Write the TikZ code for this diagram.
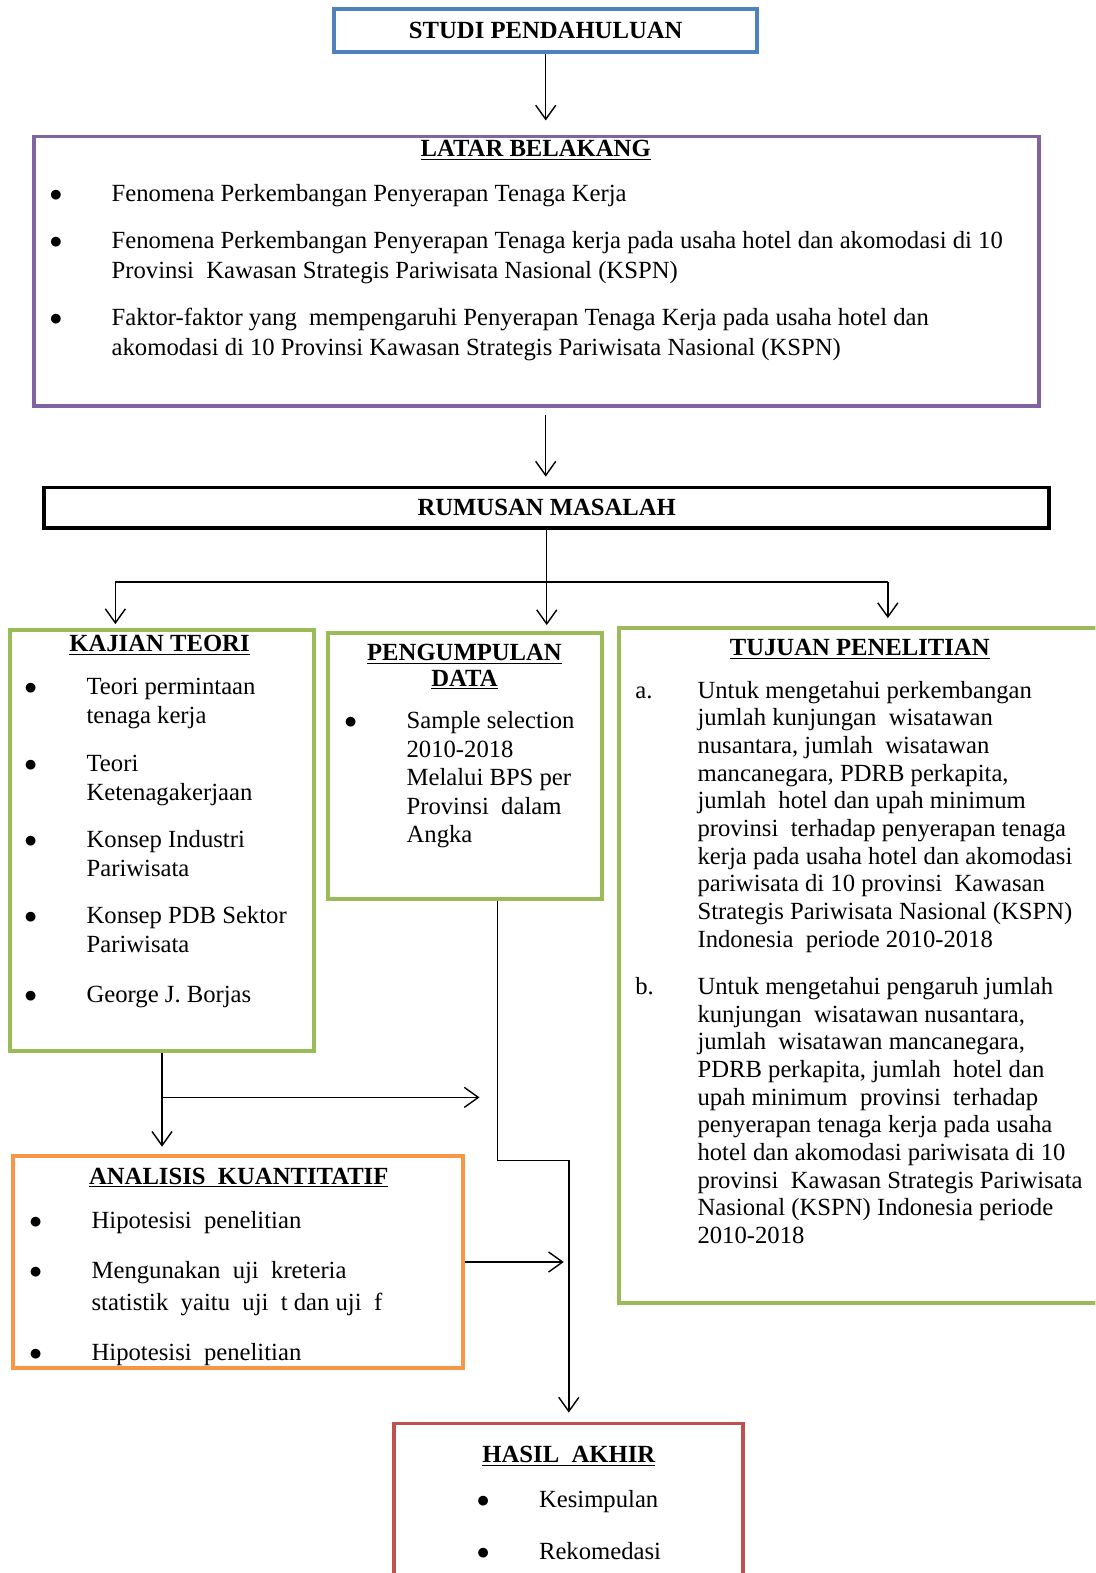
\documentclass[tikz,border=0pt]{standalone}
\usepackage{fontspec}
\setmainfont{Liberation Serif}
\usetikzlibrary{arrows.meta, positioning, calc}
\definecolor{myblue}{RGB}{79,129,189}
\definecolor{mypurple}{RGB}{128,100,162}
\definecolor{mygreen}{RGB}{155,187,89}
\definecolor{myorange}{RGB}{247,150,70}
\definecolor{myred}{RGB}{192,80,77}
\newcommand{\itemrow}[3][1.24cm]{\begin{tabular}{@{}p{#1}@{}l@{}}#2 & #3\end{tabular}}
\newcommand{\bul}{$\bullet$}

\begin{document}
\begin{tikzpicture}[
    x=0.02cm, y=-0.02cm,
    box/.style={draw,line width=2.2pt,inner sep=0pt},
    title/.style={inner sep=0pt,align=center,font=\fontsize{14}{16}\selectfont\bfseries},
    item/.style={inner sep=0pt,anchor=west,font=\fontsize{14}{#1}\selectfont},
    item/.default=17,
    arrow/.style={-{Straight Barb[length=0.28cm,width=0.4cm]},line width=0.8pt},
    line/.style={line width=0.8pt}
]
    \clip (0,0) rectangle (1092,1568);

    % Boxes
    \node[box,draw=myblue,minimum width=8.44cm,minimum height=0.86cm,font=\fontsize{14}{16}\selectfont\bfseries] (studi) at (544,30.5) {STUDI PENDAHULUAN};
    \node[box,draw=mypurple,minimum width=20.04cm,minimum height=5.38cm] (latar) at (535,270.5) {};
    \node[box,draw=black,minimum width=20.04cm,minimum height=0.8cm,font=\fontsize{14}{16}\selectfont\bfseries] (rumusan) at (545,506) {RUMUSAN MASALAH};
    \node[box,draw=mygreen,minimum width=6.06cm,minimum height=8.4cm] (kajian) at (161.5,838) {};
    \node[box,draw=mygreen,minimum width=5.46cm,minimum height=5.3cm] (data) at (463.5,763.5) {};
    \node[box,draw=mygreen,minimum width=9.86cm,minimum height=13.46cm] (tujuan) at (863.5,962.5) {};
    \node[box,draw=myorange,minimum width=8.98cm,minimum height=4.24cm] (analisis) at (237.5,1258) {};
    \node[box,draw=myred,minimum width=6.96cm,minimum height=3.42cm] (hasil) at (567,1504.5) {};

    % Latar belakang
    \node[title] (latart) at (534,150) {\underline{LATAR BELAKANG}};
    \node[item] (lb1) at (49,195) {\itemrow{\bul}{Fenomena Perkembangan Penyerapan Tenaga Kerja}};
    \node[item] (lb2) at (49,257) {\itemrow{\bul}{Fenomena Perkembangan Penyerapan Tenaga kerja pada usaha hotel dan akomodasi di 10\\ & Provinsi\ \ Kawasan Strategis Pariwisata Nasional (KSPN)}};
    \node[item] (lb3) at (49,333.5) {\itemrow{\bul}{Faktor-faktor yang\ \ mempengaruhi Penyerapan Tenaga Kerja pada usaha hotel dan\\ & akomodasi di 10 Provinsi Kawasan Strategis Pariwisata Nasional (KSPN)}};

    % Kajian teori
    \node[title] (kajiant) at (159,643) {\underline{KAJIAN TEORI}};
    \node[item=16.8] (kt1) at (24,701) {\itemrow{\bul}{Teori permintaan\\ & tenaga kerja}};
    \node[item=16.8] (kt2) at (24,777.5) {\itemrow{\bul}{Teori\\ & Ketenagakerjaan}};
    \node[item=16.8] (kt3) at (24,853.5) {\itemrow{\bul}{Konsep Industri\\ & Pariwisata}};
    \node[item=16.8] (kt4) at (24,929) {\itemrow{\bul}{Konsep PDB Sektor\\ & Pariwisata}};
    \node[item=16.8] (kt5) at (24,993) {\itemrow{\bul}{George J. Borjas}};

    % Pengumpulan data
    \node[title,font=\fontsize{14}{14.2}\selectfont\bfseries] (datat) at (463,665) {\underline{PENGUMPULAN}\\\underline{DATA}};
    \node[item=16.1] (pd1) at (343,777.5) {\itemrow{\bul}{Sample selection\\ & 2010-2018\\ & Melalui BPS per\\ & Provinsi\ \ dalam\\ & Angka}};

    % Tujuan penelitian
    \node[title] (tujuant) at (857,647) {\underline{TUJUAN PENELITIAN}};
    \node[item=15.7] (tp1) at (633,814.5) {\itemrow{a.}{Untuk mengetahui perkembangan\\ & jumlah kunjungan\ \ wisatawan\\ & nusantara, jumlah\ \ wisatawan\\ & mancanegara, PDRB perkapita,\\ & jumlah\ \ hotel dan upah minimum\\ & provinsi\ \ terhadap penyerapan tenaga\\ & kerja pada usaha hotel dan akomodasi\\ & pariwisata di 10 provinsi\ \ Kawasan\\ & Strategis Pariwisata Nasional (KSPN)\\ & Indonesia\ \ periode 2010-2018}};
    \node[item=15.7] (tp2) at (633,1110) {\itemrow{b.}{Untuk mengetahui pengaruh jumlah\\ & kunjungan\ \ wisatawan nusantara,\\ & jumlah\ \ wisatawan mancanegara,\\ & PDRB perkapita, jumlah\ \ hotel dan\\ & upah minimum\ \ provinsi\ \ terhadap\\ & penyerapan tenaga kerja pada usaha\\ & hotel dan akomodasi pariwisata di 10\\ & provinsi\ \ Kawasan Strategis Pariwisata\\ & Nasional (KSPN) Indonesia periode\\ & 2010-2018}};

    % Analisis kuantitatif
    \node[title] (analisist) at (238,1174) {\underline{ANALISIS\ \ KUANTITATIF}};
    \node[item=18.2] (ak1) at (29,1218) {\itemrow{\bul}{Hipotesisi\ \ penelitian}};
    \node[item=18.2] (ak2) at (29,1284) {\itemrow{\bul}{Mengunakan\ \ uji\ \ kreteria\\ & statistik\ \ yaitu\ \ uji\ \ t dan uji\ \ f}};
    \node[item=18.2] (ak3) at (29,1350) {\itemrow{\bul}{Hipotesisi\ \ penelitian}};

    % Hasil akhir
    \node[title] (hasilt) at (567,1452) {\underline{HASIL\ \ AKHIR}};
    \node[item] (ha1) at (475,1497) {\itemrow{\bul}{Kesimpulan}};
    \node[item] (ha2) at (475,1549) {\itemrow{\bul}{Rekomedasi}};

    % Connectors
    \draw[arrow,shorten >=0.28cm] (studi.south) -- (studi.south |- latar.north);
    \draw[arrow,shorten <=0.14cm,shorten >=0.18cm] (studi.south |- latar.south) -- (studi.south |- rumusan.north);
    \draw[arrow,shorten >=0.12cm] (rumusan.south) -- (rumusan.south |- data.north);
    \coordinate (bl) at (115,580);
    \coordinate (br) at (885,580);
    \draw[line] (bl) -- (br);
    \draw[arrow,shorten >=0.08cm] (bl) -- (bl |- kajian.north);
    \draw[arrow,shorten >=0.16cm] (br) -- (br |- tujuan.north);
    \draw[arrow,shorten >=0.14cm] (kajian.south) -- (kajian.south |- analisis.north);
    \coordinate (kb) at ($(kajian.south)+(0,44)$);
    \coordinate (dout) at ($(data.south)+(32.5,0)$);
    \draw[arrow,shorten >=0.36cm] (kb) -- (kb -| dout);
    \coordinate (db) at ($(dout)+(0,259)$);
    \draw[arrow,shorten >=0.18cm] (dout) -- (db) -| (hasil.north);
    \draw[arrow,shorten >=0.1cm] (analisis.east) -- (analisis.east -| hasil.north);
\end{tikzpicture}
\end{document}
